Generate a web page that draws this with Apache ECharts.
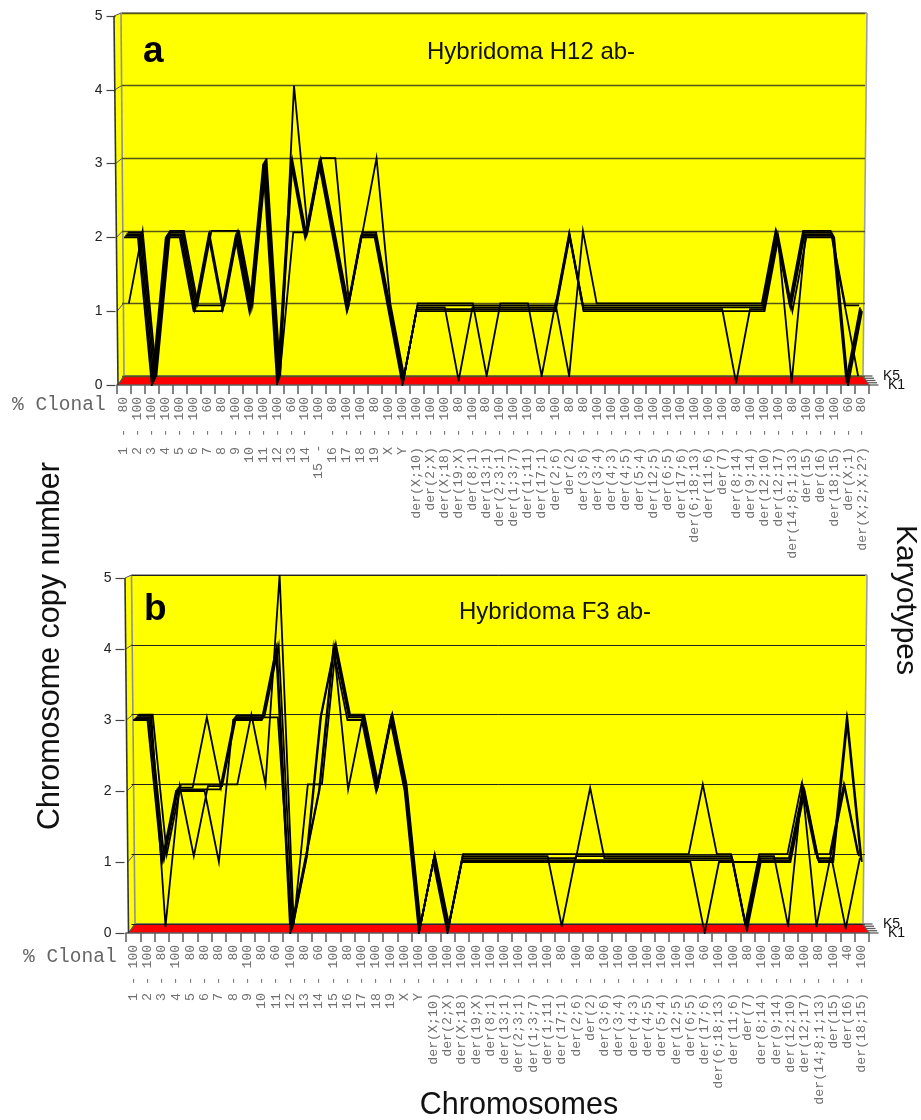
<!DOCTYPE html>
<html><head><meta charset="utf-8">
<style>html,body{margin:0;padding:0;background:#fff}#c{width:921px;height:1120px}</style>
<script src="https://cdn.jsdelivr.net/npm/echarts@6/dist/echarts.min.js"></script>
</head><body><div id="c"></div>
<script>
const karyotypes = ['K1','K2','K3','K4','K5'];
const yTicks = [0,1,2,3,4,5];

const categoriesA = ['1','2','3','4','5','6','7','8','9','10','11','12','13','14','15','16','17','18','19','X','Y','der(X;10)','der(2;X)','der(X;18)','der(19;X)','der(8;1)','der(13;1)','der(2;3;1)','der(1;3;7)','der(1;11)','der(17;1)','der(2;6)','der(2)','der(3;6)','der(3;4)','der(4;3)','der(4;5)','der(5;4)','der(12;5)','der(6;5)','der(17;6)','der(6;18;13)','der(11;6)','der(7)','der(8;14)','der(9;14)','der(12;10)','der(12;17)','der(14;8;1;13)','der(15)','der(16)','der(18;15)','der(X;1)','der(X;2;X;2?)'];
const clonalA = [80,100,100,100,100,100,60,80,100,100,100,100,60,100,100,80,100,100,80,100,100,100,100,100,80,100,80,100,100,100,80,100,80,80,100,100,100,100,100,100,100,100,100,100,80,100,100,100,80,100,100,100,60,80];
const a_K1 = [2,2,0,2,2,1,1,1,2,1,3,0,3,2,3,2,1,2,2,1,0,1,1,1,1,1,1,1,1,1,1,1,2,1,1,1,1,1,1,1,1,1,1,1,1,1,1,2,1,2,2,2,0,1];
const a_K2 = [2,2,0,2,2,1,2,1,2,1,3,0,3,2,3,2,1,2,2,1,0,1,1,1,1,1,1,1,1,1,1,1,2,1,1,1,1,1,1,1,1,1,1,1,0,1,1,2,0,2,2,2,0,1];
const a_K3 = [2,2,0,2,2,1,2,1,2,1,3,0,3,2,3,2,1,2,2,1,0,1,1,1,0,1,1,1,1,1,1,1,2,1,1,1,1,1,1,1,1,1,1,1,1,1,1,2,1,2,2,2,0,1];
const a_K4 = [2,2,0,2,2,1,1,1,2,1,3,0,2,2,3,2,1,2,2,1,0,1,1,1,1,1,1,1,1,1,1,1,2,1,1,1,1,1,1,1,1,1,1,1,1,1,1,2,1,2,2,2,1,1];
const a_K5 = [1,2,0,2,2,1,2,2,2,1,3,0,4,2,3,3,1,2,3,1,0,1,1,1,1,1,0,1,1,1,0,1,0,2,1,1,1,1,1,1,1,1,1,1,1,1,1,2,1,2,2,2,1,0];

const categoriesB = ['1','2','3','4','5','6','7','8','9','10','11','12','13','14','15','16','17','18','19','X','Y','der(X;10)','der(2;X)','der(X;18)','der(19;X)','der(8;1)','der(13;1)','der(2;3;1)','der(1;3;7)','der(1;11)','der(17;1)','der(2;6)','der(2)','der(3;6)','der(3;4)','der(4;3)','der(4;5)','der(5;4)','der(12;5)','der(6;5)','der(17;6)','der(6;18;13)','der(11;6)','der(7)','der(8;14)','der(9;14)','der(12;10)','der(12;17)','der(14;8;1;13)','der(15)','der(16)','der(18;15)'];
const clonalB = [100,100,80,100,80,80,80,80,100,80,60,100,80,60,100,80,100,100,100,100,100,100,100,100,100,100,100,100,100,100,80,100,80,100,100,100,100,100,100,100,60,100,100,80,100,100,80,100,80,100,40,100];
const b_K1 = [3,3,1,2,2,2,1,3,3,3,4,0,1,2,4,3,3,2,3,2,0,1,0,1,1,1,1,1,1,1,1,1,1,1,1,1,1,1,1,1,0,1,1,1,1,1,1,2,1,1,3,1];
const b_K2 = [3,3,1,2,2,2,2,3,3,3,4,0,1,2,4,2,3,2,3,2,0,1,0,1,1,1,1,1,1,1,1,1,1,1,1,1,1,1,1,1,1,1,1,0,1,1,1,2,1,1,3,1];
const b_K3 = [3,3,1,2,2,3,2,3,3,3,3,0,1,3,4,3,3,2,3,2,0,1,0,1,1,1,1,1,1,1,1,1,2,1,1,1,1,1,1,1,1,1,1,0,1,1,1,2,1,1,0,1];
const b_K4 = [3,3,0,2,1,2,2,3,3,3,4,0,1,3,4,3,3,2,3,2,0,1,0,1,1,1,1,1,1,1,0,1,1,1,1,1,1,1,1,1,1,1,1,0,1,1,0,2,0,1,2,1];
const b_K5 = [3,3,1,2,2,2,2,2,3,2,5,0,2,2,4,3,3,2,3,2,0,1,0,1,1,1,1,1,1,1,1,1,1,1,1,1,1,1,1,1,2,1,1,0,1,1,1,2,1,1,2,1];

const SANS = '"Liberation Sans", Arial, sans-serif';
const MONO = '"Liberation Mono", "Courier New", monospace';

const panels = [
  { cats: categoriesA, clonal: clonalA, series: [a_K1,a_K2,a_K3,a_K4,a_K5],
    title: 'Hybridoma H12 ab-', letter: 'a', titleX: 427, titleY: 52, letterX: 143, letterY: 52, clonalX: 12, clonalY: 405,
    front: {l:117, r:869, t:16, b:385}, back: {l:122, r:865, t:13, b:376},
    wall: {ftl:[114,16], ftr:[873,16], fbl:[118,385], fbr:[869,385], btl:[121,13], btr:[867,13], bbl:[124,376], bbr:[863,376]},
    grid: '#55551a', gridW: 1.3, mClonal: 12, mDash: 44, mName: 62 },
  { cats: categoriesB, clonal: clonalB, series: [b_K1,b_K2,b_K3,b_K4,b_K5],
    title: 'Hybridoma F3 ab-', letter: 'b', titleX: 459, titleY: 612, letterX: 144, letterY: 610, clonalX: 23, clonalY: 957,
    front: {l:126, r:869, t:578, b:933}, back: {l:131.5, r:865, t:575, b:924},
    wall: {ftl:[125,578], ftr:[873,578], fbl:[128.5,933], fbr:[869,933], btl:[131.5,575], btr:[867,575], bbl:[135,924], bbr:[863,924]},
    grid: '#222', gridW: 1, mClonal: 12, mDash: 44, mName: 60 }
];

const grids=[], xAxes=[], yAxes=[], seriesList=[], graphics=[];
const mix=(u,v,t)=>u+(v-u)*t;
const gray='#5c5c5c';
const line=(p,q,color,w,z)=>({type:'line',shape:{x1:p[0],y1:p[1],x2:q[0],y2:q[1]},style:{stroke:color,lineWidth:w},z:z===undefined?-1:z,silent:true});
const poly=(pts,fill,z)=>({type:'polygon',shape:{points:pts},style:{fill:fill},z:z===undefined?-5:z,silent:true});
const txt=(x,y,s,font,fill,extra)=>Object.assign({type:'text',x:x,y:y,style:Object.assign({text:s,font:font,fill:fill,textVerticalAlign:'middle',verticalAlign:'middle'},extra&&extra.style||{}),z:20,silent:true},extra&&extra.el||{});

panels.forEach(function(p){
  const w=p.wall;
  graphics.push(poly([w.btl,w.btr,w.bbr,w.bbl],'#ffff00'));
  graphics.push(poly([w.ftl,w.btl,w.bbl,w.fbl],'#ffff00'));
  graphics.push(poly([w.fbl,w.bbl,w.bbr,w.fbr],'#ff0000',-4));
  graphics.push(line(w.btl,w.btr,'#808080',1.6));
  graphics.push(line(w.btl,w.bbl,'#909090',1.6));
  graphics.push(line(w.btr,w.bbr,'#a0a0a0',1.6));
  graphics.push(line(w.bbl,w.bbr,gray,1.6,-3));
  graphics.push(line(w.bbr,w.fbr,gray,1.2,-3));
  graphics.push(line(w.bbl,w.fbl,gray,1.2,-3));
  graphics.push(line(w.ftl,w.fbl,'#333',1.6,1));
  yTicks.forEach(function(v){
    const t=v/5;
    const f=[mix(w.fbl[0],w.ftl[0],t),mix(p.front.b,p.front.t,t)];
    const b=[mix(w.bbl[0],w.btl[0],t),mix(p.back.b,p.back.t,t)];
    graphics.push(line(f,b,'#555',1));
  });
  karyotypes.forEach(function(k,i){
    const t=i/(karyotypes.length-1);
    const s=[mix(w.fbr[0],w.bbr[0],t),mix(w.fbr[1],w.bbr[1],t)];
    graphics.push(line(s,[s[0]+9.5,s[1]],gray,1.3,1));
  });
  graphics.push(txt(w.bbr[0]+20,w.bbr[1],'K5','14px '+SANS,'#111'));
  graphics.push(txt(w.fbr[0]+19,w.fbr[1],'K1','14px '+SANS,'#111'));
  graphics.push(txt(p.titleX,p.titleY,p.title,'24px '+SANS,'#111'));
  graphics.push(txt(p.letterX,p.letterY,p.letter,'bold 37px '+SANS,'#000'));
  graphics.push(txt(p.clonalX,p.clonalY,'% Clonal','19.5px '+MONO,'#666'));

  karyotypes.forEach(function(k,i){
    const t=i/(karyotypes.length-1);
    const l=mix(p.front.l,p.back.l,t), r=mix(p.front.r,p.back.r,t), top=mix(p.front.t,p.back.t,t), bot=mix(p.front.b,p.back.b,t);
    const gi=grids.length;
    grids.push({left:l,top:top,width:r-l,height:bot-top,containLabel:false,show:false});
    const xi=xAxes.length, yi=yAxes.length;
    const isFront=i===0, isBack=i===karyotypes.length-1;
    xAxes.push({type:'category',gridIndex:gi,data:p.cats,boundaryGap:true,position:'bottom',
      axisLine:{show:isFront,onZero:false,lineStyle:{color:gray,width:1.6}},
      axisTick:{show:isFront,length:9,interval:0,lineStyle:{color:gray,width:1.5}},
      axisLabel:{show:isFront,interval:0,rotate:90,margin:p.mName,hideOverlap:false,color:'#707070',fontFamily:MONO,fontSize:13.3,
        formatter:function(v){return (p===panels[0]&&v==='15')?v+'  ':v;}},
      splitLine:{show:false}});
    yAxes.push({type:'value',gridIndex:gi,min:0,max:5,interval:1,position:'left',offset:isFront?1.5:0,
      axisLine:{show:false},
      axisTick:{show:isFront,length:9,lineStyle:{color:'#444',width:1.2}},
      axisLabel:{show:isFront,margin:13,color:'#222',fontFamily:SANS,fontSize:14},
      splitLine:{show:isBack,lineStyle:{color:p.grid,width:p.gridW}}});
    seriesList.push({type:'line',name:p.letter+' '+k,xAxisIndex:xi,yAxisIndex:yi,data:p.series[i],
      showSymbol:false,symbol:'none',animation:false,silent:true,z:10-i,
      lineStyle:{color:'#000',width:1.8,join:'miter',miterLimit:12,cap:'butt'}});
    if(isFront){
      xAxes.push({type:'category',gridIndex:gi,data:p.clonal.map(String),position:'bottom',
        axisLine:{show:false},axisTick:{show:false},splitLine:{show:false},
        axisLabel:{interval:0,rotate:90,margin:p.mClonal,hideOverlap:false,color:'#707070',fontFamily:MONO,fontSize:13}});
      xAxes.push({type:'category',gridIndex:gi,data:p.cats.map(function(c){return (p===panels[0]&&c==='15')?'-  ':'-';}),position:'bottom',
        axisLine:{show:false},axisTick:{show:false},splitLine:{show:false},
        axisLabel:{interval:0,rotate:90,margin:p.mDash,hideOverlap:false,color:'#707070',fontFamily:MONO,fontSize:13}});
    }
  });
});

graphics.push(txt(51,646,'Chromosome copy number','30.5px '+SANS,'#111',{style:{textAlign:'center',align:'center'},el:{rotation:Math.PI/2}}));
graphics.push(txt(905,600,'Karyotypes','30px '+SANS,'#111',{style:{textAlign:'center',align:'center'},el:{rotation:-Math.PI/2}}));
graphics.push(txt(519,1106,'Chromosomes','30.5px '+SANS,'#111',{style:{textAlign:'center',align:'center'}}));

const chart=echarts.init(document.getElementById('c'),null,{renderer:'canvas',width:921,height:1120});
chart.setOption({animation:false,backgroundColor:'#fff',grid:grids,xAxis:xAxes,yAxis:yAxes,series:seriesList,graphic:{elements:graphics},tooltip:{show:false},legend:{show:false}});
</script></body></html>
